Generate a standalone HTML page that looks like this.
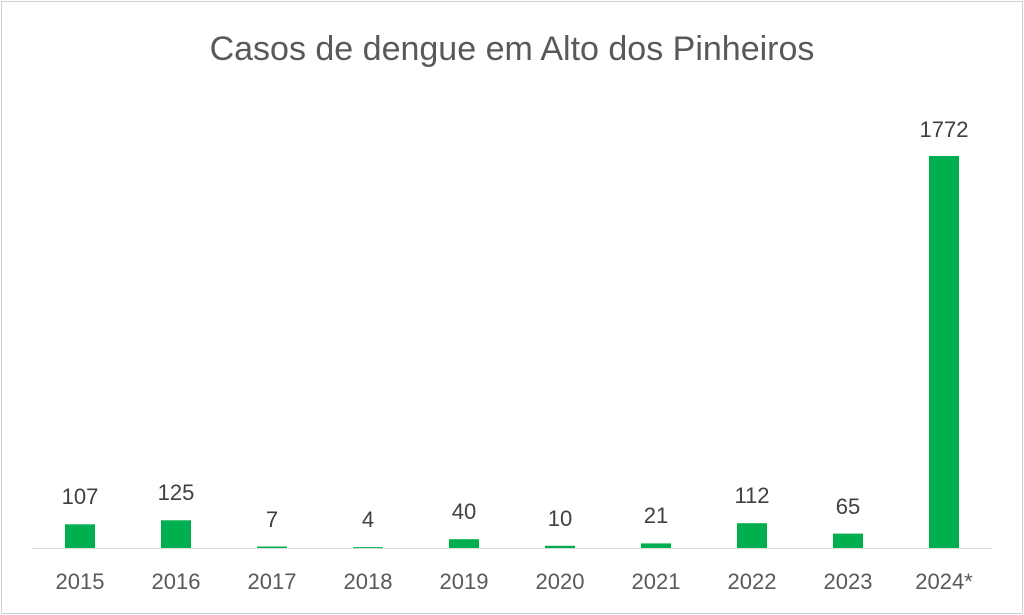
<!DOCTYPE html>
<html><head><style>
html,body{margin:0;padding:0;background:#fff;}
svg{display:block;font-family:"Liberation Sans",sans-serif;}
</style></head><body>
<svg width="1024" height="615" viewBox="0 0 1024 615">
<rect x="1.5" y="1.5" width="1021" height="612" fill="#fff" stroke="#d0d0d0" stroke-width="1"/>
<text x="512" y="60" text-anchor="middle" font-size="34" fill="#595959">Casos de dengue em Alto dos Pinheiros</text>
<line x1="32" y1="548.5" x2="992" y2="548.5" stroke="#d9d9d9" stroke-width="1"/>
<g fill="#00B050">
<rect x="65" y="524.3" width="30" height="23.7"/>
<rect x="161" y="520.3" width="30" height="27.7"/>
<rect x="257" y="546.5" width="30" height="1.5"/>
<rect x="353" y="547.1" width="30" height="0.9"/>
<rect x="449" y="539.2" width="30" height="8.8"/>
<rect x="545" y="545.8" width="30" height="2.2"/>
<rect x="641" y="543.4" width="30" height="4.6"/>
<rect x="737" y="523.2" width="30" height="24.8"/>
<rect x="833" y="533.6" width="30" height="14.4"/>
<rect x="929" y="156" width="30" height="392"/>
</g>
<g font-size="22" fill="#404040" text-anchor="middle">
<text x="80" y="504">107</text>
<text x="176" y="500">125</text>
<text x="272" y="527">7</text>
<text x="368" y="527">4</text>
<text x="464" y="519">40</text>
<text x="560" y="526">10</text>
<text x="656" y="523">21</text>
<text x="752" y="503">112</text>
<text x="848" y="514">65</text>
<text x="944" y="137">1772</text>
</g>
<g font-size="22" fill="#595959" text-anchor="middle">
<text x="80" y="589">2015</text>
<text x="176" y="589">2016</text>
<text x="272" y="589">2017</text>
<text x="368" y="589">2018</text>
<text x="464" y="589">2019</text>
<text x="560" y="589">2020</text>
<text x="656" y="589">2021</text>
<text x="752" y="589">2022</text>
<text x="848" y="589">2023</text>
<text x="944" y="589">2024*</text>
</g>
</svg>
</body></html>
